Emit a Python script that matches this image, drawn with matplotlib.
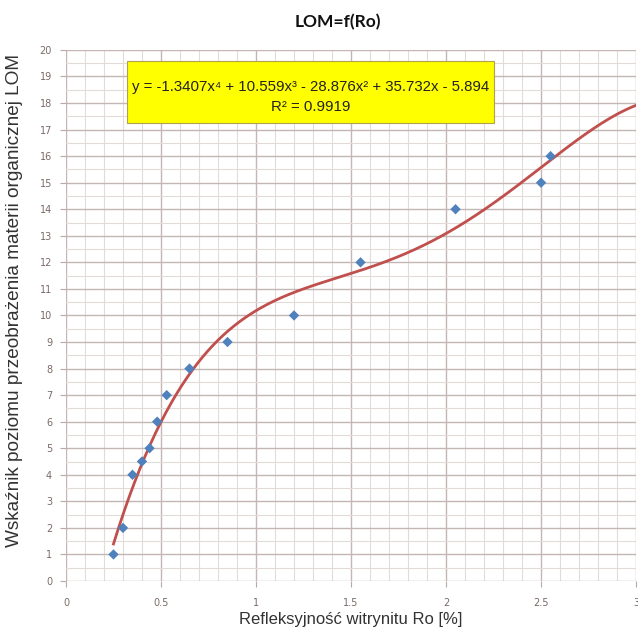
import numpy as np
import matplotlib
matplotlib.use("Agg")
import matplotlib.pyplot as plt
from matplotlib.patches import Rectangle

# dane pomiarowe
ro = [0.25, 0.30, 0.35, 0.40, 0.44, 0.48, 0.53, 0.65, 0.85, 1.20, 1.55, 2.05, 2.50, 2.55]
lom = [1, 2, 4, 4.5, 5, 6, 7, 8, 9, 10, 12, 14, 15, 16]

# wspolczynniki linii trendu (z wykresu)
wsp = [-1.3407, 10.559, -28.876, 35.732, -5.894]
r2 = 0.9919
x_trend_min, x_trend_max = 0.25, 3.0

x_ticks = [0, 0.5, 1, 1.5, 2, 2.5, 3]
x_tick_labels = ["0", "0.5", "1", "1.5", "2", "2.5", "3"]
y_ticks = list(range(0, 21))

fig = plt.figure(figsize=(6.38, 6.32), dpi=100)
ax = fig.add_axes([0.1034, 0.0807, 0.8936, 0.8403])

# siatka
for xv in np.arange(0, 3.001, 0.1):
    major = abs(xv / 0.5 - round(xv / 0.5)) < 1e-6
    ax.axvline(xv, color="#c4b6b4" if major else "#e2dbda", lw=1.0 if major else 0.8, zorder=0)
for yv in np.arange(0, 20.001, 0.5):
    major = abs(yv - round(yv)) < 1e-6
    ax.axhline(yv, color="#c4b6b4" if major else "#e2dbda", lw=1.0 if major else 0.8, zorder=0)

# linia trendu
xt = np.linspace(x_trend_min, x_trend_max, 300)
ax.plot(xt, np.polyval(wsp, xt), color="#c0504d", lw=2.0, zorder=3)

# punkty
ax.scatter(ro, lom, marker="D", s=28, color="#4f81bd", edgecolors="none", zorder=4)

ax.set_xlim(0, 3)
ax.set_ylim(0, 20)
ax.set_xticks(x_ticks)
ax.set_xticklabels(x_tick_labels)
ax.set_yticks(y_ticks)
for s in ax.spines.values():
    s.set_visible(False)
ax.tick_params(axis="both", colors="#b8a8a6", labelcolor="#7a6a66", labelsize=7,
               length=4, width=0.8, direction="out")
ax.tick_params(axis="x", pad=8)
ax.tick_params(axis="y", pad=6)

ax.set_xlabel("Refleksyjność witrynitu Ro [%]", fontsize=12, color="#333333",
              family="Liberation Sans", labelpad=3)
fig.text(0.0235, 0.524, "Wskaźnik poziomu przeobrażenia materii organicznej LOM",
         rotation=90, ha="center", va="center", fontsize=13.7, color="#333333",
         family="Liberation Sans")

fig.text(0.53, 0.965, "LOM=f(Ro)", ha="center", va="center", fontsize=12.5,
         fontweight="bold", family="Lato", color="#111111")

# ramka z rownaniem
ax.add_patch(Rectangle((0.321, 17.25), 1.932, 2.34, facecolor="#ffff00",
                       edgecolor="#b0a050", lw=0.8, zorder=5))
eq = "y = -1.3407x\u2074 + 10.559x\u00b3 - 28.876x\u00b2 + 35.732x - 5.894"
ax.text(1.287, 18.62, eq, ha="center", va="center", fontsize=10.8,
        family=["Liberation Sans", "DejaVu Sans"], color="#222222", zorder=6)
ax.text(1.287, 17.85, "R\u00b2 = %.4f" % r2, ha="center", va="center", fontsize=10.8,
        family=["Liberation Sans", "DejaVu Sans"], color="#222222", zorder=6)

fig.savefig("out.png", dpi=100)
